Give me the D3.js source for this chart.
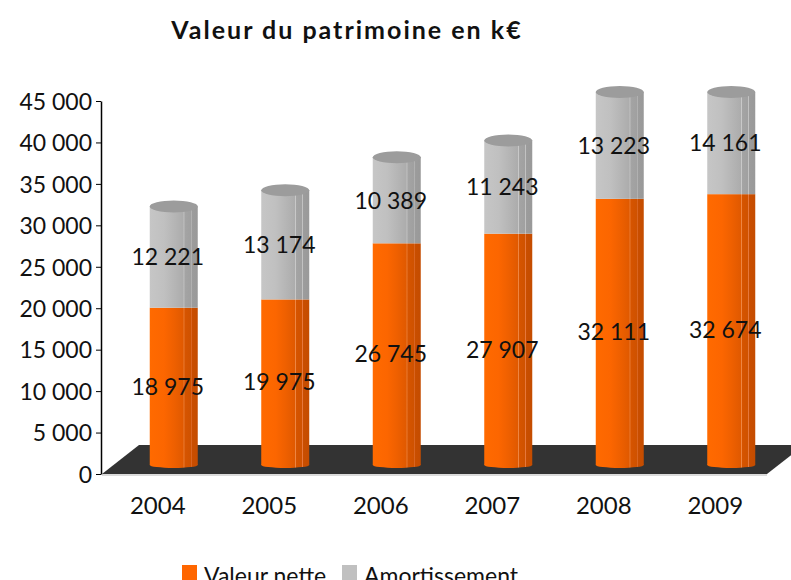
<!DOCTYPE html>
<html>
<head>
<meta charset="utf-8">
<script src="https://cdn.jsdelivr.net/npm/d3@7"></script>
<style>
  body { margin: 0; background: #fff; }
  text { font-family: Lato, "Noto Sans", sans-serif; fill: #111; }
</style>
</head>
<body>
<svg width="791" height="580"></svg>
<script>
var years = ["2004", "2005", "2006", "2007", "2008", "2009"];
var valeurNette = [18975, 19975, 26745, 27907, 32111, 32674];
var amortissement = [12221, 13174, 10389, 11243, 13223, 14161];
var yTicks = [0, 5000, 10000, 15000, 20000, 25000, 30000, 35000, 40000, 45000];
var seriesNames = ["Valeur nette", "Amortissement"];

var svg = d3.select("svg");

var fr = d3.formatLocale({decimal: ",", thousands: " ", grouping: [3], currency: ["", " €"]});
var fmt = fr.format(",d");

var yMax = 45000;
var x = d3.scaleBand().domain(years).range([101, 770]);
var y = d3.scaleLinear().domain([0, yMax]).range([474, 101]);

// depth offset of the bars on the floor
var dx = 17, dy = -9, bw = 48, ry = 6;

var data = years.map(function(yr, i) {
  return {year: yr, nette: valeurNette[i], amort: amortissement[i]};
});
var stack = d3.stack().keys(["nette", "amort"]);
var layers = stack(data);

// bars are cut at the top of the value axis
function clipTop(s) { return Math.min(s[1], yMax); }

// gradients
var defs = svg.append("defs");
function grad(id, stops) {
  var g = defs.append("linearGradient").attr("id", id)
      .attr("x1", 0).attr("x2", 1).attr("y1", 0).attr("y2", 0);
  stops.forEach(function(s) {
    g.append("stop").attr("offset", s[0]).attr("stop-color", s[1]);
  });
}
grad("gOrange", [[0, "#ff6a00"], [0.3, "#fc6600"], [0.5, "#ef6000"], [0.7, "#e05900"],
                 [0.71, "#f39050"], [0.73, "#d65400"], [0.85, "#cf5200"], [0.86, "#e87a40"],
                 [0.88, "#c94e00"], [1, "#c44c00"]]);
grad("gGray", [[0, "#c6c6c6"], [0.3, "#c0c0c0"], [0.5, "#b6b6b6"], [0.7, "#acacac"],
               [0.71, "#d0d0d0"], [0.73, "#a4a4a4"], [0.85, "#a0a0a0"], [0.86, "#c4c4c4"],
               [0.88, "#9c9c9c"], [1, "#999999"]]);
var fills = {nette: "url(#gOrange)", amort: "url(#gGray)"};
var legendColors = ["#ff6600", "#c0c0c0"];

// title
svg.append("text")
    .attr("x", 347).attr("y", 39)
    .attr("text-anchor", "middle")
    .attr("font-size", 25)
    .attr("font-weight", "bold")
    .attr("letter-spacing", 2)
    .text("Valeur du patrimoine en k€");

// floor
var x0 = 102, x1 = 767, yb = y(0);
svg.append("path")
    .attr("d", "M" + x0 + "," + yb + "L" + (x0 + 37) + "," + (yb - 29) +
               "L" + (x1 + 37) + "," + (yb - 29) + "L" + x1 + "," + yb + "Z")
    .attr("fill", "#333333");
svg.append("line")
    .attr("x1", x0).attr("x2", x1).attr("y1", yb + 1).attr("y2", yb + 1)
    .attr("stroke", "#cfcfcf").attr("stroke-width", 1.5);

// axis
var yAxis = d3.axisLeft(y).tickValues(yTicks).tickFormat(fmt).tickSize(5).tickSizeOuter(0);
var ga = svg.append("g")
    .attr("transform", "translate(101,0)")
    .call(yAxis);
ga.select(".domain").attr("stroke", "#000").attr("stroke-width", 1.5);
ga.selectAll(".tick line").attr("stroke", "#000");
ga.selectAll(".tick text").attr("font-size", 23).attr("x", -9).attr("dy", "0.36em")
    .style("font-family", "Lato, 'Noto Sans', sans-serif").attr("fill", "#111");

// x labels
svg.selectAll(".xlab")
  .data(years)
  .enter().append("text")
    .attr("class", "xlab")
    .attr("x", function(d) { return x(d) + x.bandwidth() / 2 + 1; })
    .attr("y", 514)
    .attr("text-anchor", "middle")
    .attr("font-size", 24)
    .text(function(d) { return d; });

// cylinders
var cyl = svg.selectAll(".cyl")
  .data(data)
  .enter().append("g")
    .attr("class", "cyl");

function cx(d) { return x(d.year) + x.bandwidth() / 2 + dx; }

layers.forEach(function(layer) {
  var key = layer.key;
  cyl.each(function(d, i) {
    var s = layer[i];
    var c = cx(d), yt = y(clipTop(s)) + dy, bot = y(s[0]) + dy;
    var g = d3.select(this);
    if (key === "nette") {
      // bottom rim
      g.append("ellipse")
          .attr("cx", c).attr("cy", bot).attr("rx", bw / 2).attr("ry", ry / 2)
          .attr("fill", fills[key]);
    }
    g.append("rect")
        .attr("x", c - bw / 2).attr("y", yt)
        .attr("width", bw).attr("height", bot - yt)
        .attr("fill", fills[key]);
    if (key === "amort") {
      g.append("ellipse")
          .attr("cx", c).attr("cy", yt).attr("rx", bw / 2).attr("ry", ry)
          .attr("fill", "#9c9c9c");
    }
  });
});

// value labels
layers.forEach(function(layer) {
  svg.selectAll(".lab-" + layer.key)
    .data(layer)
    .enter().append("text")
      .attr("x", function(s) { return cx(s.data) - 6; })
      .attr("y", function(s) { return (y(s[0]) + y(clipTop(s))) / 2 + dy; })
      .attr("dy", "0.36em")
      .attr("text-anchor", "middle")
      .attr("font-size", 23)
      .text(function(s) { return fmt(s[1] - s[0]); });
});

// legend
var leg = svg.append("g");
var legX = [182, 342];
seriesNames.forEach(function(n, i) {
  leg.append("rect")
      .attr("x", legX[i]).attr("y", 565).attr("width", 15).attr("height", 15)
      .attr("fill", legendColors[i]);
  leg.append("text")
      .attr("x", legX[i] + 22).attr("y", 584)
      .attr("font-size", 23)
      .text(n);
});
</script>
</body>
</html>
